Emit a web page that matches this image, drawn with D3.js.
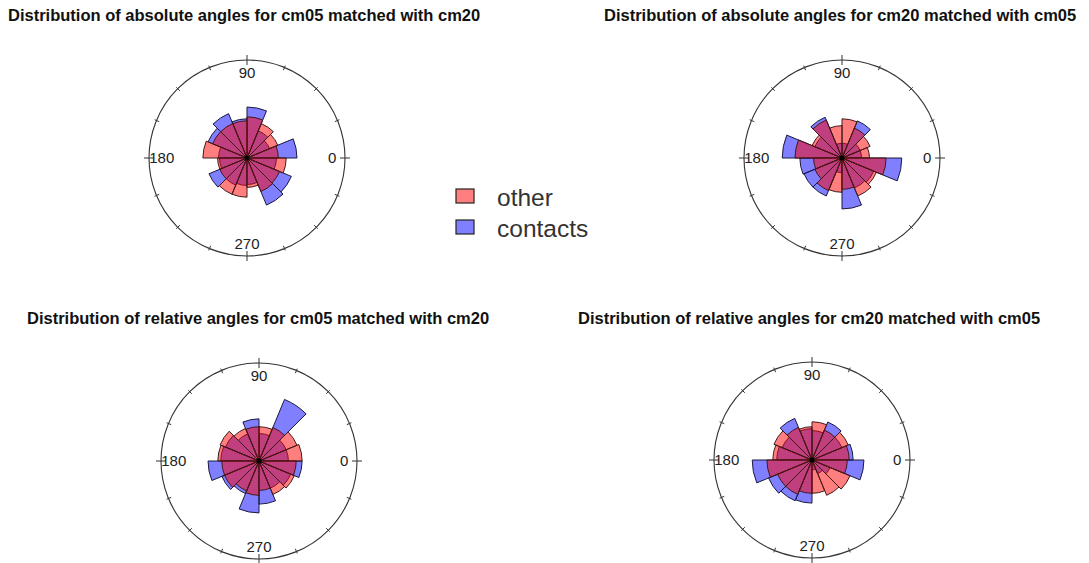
<!DOCTYPE html>
<html>
<head>
<meta charset="utf-8">
<script src="https://cdn.jsdelivr.net/npm/d3@7"></script>
<style>
  body { margin: 0; background: #fff; }
  svg { display: block; }
  .title { font-family: "Liberation Sans", Arial, sans-serif; font-weight: bold; font-size: 16.5px; fill: #111; }
  .axlab { font-family: "Liberation Sans", Arial, sans-serif; font-size: 15px; fill: #222; }
  .leg { font-family: "Liberation Sans", Arial, sans-serif; font-size: 24.5px; fill: #333; }
</style>
</head>
<body>
<svg width="1089" height="563"></svg>
<script>
// 16 bins of 22.5 degrees, counter-clockwise from 0 (east)
const binStarts = d3.range(0, 360, 22.5);
const axisLabels = [0, 90, 180, 270];

const titles = [
  "Distribution of absolute angles for cm05 matched with cm20",
  "Distribution of absolute angles for cm20 matched with cm05",
  "Distribution of relative angles for cm05 matched with cm20",
  "Distribution of relative angles for cm20 matched with cm05"
];

// bar lengths (fraction of the circle radius), one per bin
const absCm05Other    = [0.32, 0.34, 0.38, 0.42, 0.38, 0.38, 0.38, 0.45, 0.30, 0.30, 0.40, 0.40, 0.30, 0.37, 0.36, 0.40];
const absCm05Contacts = [0.51, 0.25, 0.30, 0.52, 0.40, 0.49, 0.43, 0.29, 0.28, 0.42, 0.30, 0.28, 0.27, 0.52, 0.49, 0.30];
const absCm20Other    = [0.28, 0.31, 0.33, 0.40, 0.33, 0.42, 0.33, 0.48, 0.29, 0.30, 0.36, 0.35, 0.32, 0.42, 0.38, 0.45];
const absCm20Contacts = [0.20, 0.20, 0.41, 0.15, 0.15, 0.45, 0.30, 0.61, 0.43, 0.42, 0.42, 0.15, 0.52, 0.33, 0.35, 0.61];
const relCm05Other    = [0.44, 0.42, 0.37, 0.35, 0.35, 0.36, 0.43, 0.42, 0.38, 0.38, 0.33, 0.35, 0.30, 0.37, 0.39, 0.38];
const relCm05Contacts = [0.30, 0.30, 0.68, 0.28, 0.43, 0.30, 0.37, 0.39, 0.52, 0.41, 0.36, 0.53, 0.44, 0.30, 0.35, 0.44];
const relCm20Other    = [0.38, 0.40, 0.33, 0.39, 0.34, 0.36, 0.42, 0.40, 0.46, 0.38, 0.38, 0.34, 0.34, 0.39, 0.42, 0.36];
const relCm20Contacts = [0.42, 0.33, 0.42, 0.30, 0.32, 0.46, 0.33, 0.36, 0.61, 0.48, 0.45, 0.44, 0.10, 0.15, 0.20, 0.53];

const panels = [
  { title: titles[0], other: absCm05Other, contacts: absCm05Contacts, cx: 247, cy: 158, tx: 8,   ty: 21 },
  { title: titles[1], other: absCm20Other, contacts: absCm20Contacts, cx: 842, cy: 158, tx: 604, ty: 21 },
  { title: titles[2], other: relCm05Other, contacts: relCm05Contacts, cx: 259, cy: 461, tx: 27,  ty: 324 },
  { title: titles[3], other: relCm20Other, contacts: relCm20Contacts, cx: 812, cy: 460, tx: 578, ty: 324 }
];

const R = 98;
const binWidth = 22.5;

const svg = d3.select("svg");

// math angle (deg, ccw from east) -> d3 arc angle (rad, cw from north)
const ang = d3.scaleLinear().domain([0, 360]).range([Math.PI / 2, Math.PI / 2 - 2 * Math.PI]);
const rad = d3.scaleLinear().domain([0, 1]).range([0, R]);

const arc = d3.arc()
    .innerRadius(0)
    .outerRadius(d => rad(d.v))
    .startAngle(d => ang(d.a + binWidth))
    .endAngle(d => ang(d.a));

// point on a ray at angle a (deg) and radius r (px)
const px = (a, r) => r * Math.cos(a * Math.PI / 180);
const py = (a, r) => -r * Math.sin(a * Math.PI / 180);

panels.forEach(p => {
  svg.append("text")
      .attr("class", "title")
      .attr("x", p.tx)
      .attr("y", p.ty)
      .text(p.title);

  const g = svg.append("g")
      .attr("transform", "translate(" + p.cx + "," + p.cy + ")");

  // outer circle
  g.append("circle")
      .attr("r", R)
      .attr("fill", "none")
      .attr("stroke", "#333")
      .attr("stroke-width", 1.1);

  // ticks every 22.5 degrees, longer ones at the axis labels
  g.selectAll(".tick")
      .data(binStarts)
    .enter().append("line")
      .attr("x1", d => px(d, R - (d % 90 === 0 ? 5 : 3)))
      .attr("y1", d => py(d, R - (d % 90 === 0 ? 5 : 3)))
      .attr("x2", d => px(d, R + (d % 90 === 0 ? 5 : 2)))
      .attr("y2", d => py(d, R + (d % 90 === 0 ? 5 : 2)))
      .attr("stroke", "#333")
      .attr("stroke-width", 1);

  // axis labels
  g.selectAll(".axlab")
      .data(axisLabels)
    .enter().append("text")
      .attr("class", "axlab")
      .attr("text-anchor", "middle")
      .attr("dy", "0.35em")
      .attr("x", d => px(d, 0.87 * R))
      .attr("y", d => py(d, 0.87 * R))
      .text(d => d);

  // contacts (blue) first, then other (red) on top
  g.selectAll(".contacts")
      .data(binStarts.map((a, i) => ({ a: a, v: p.contacts[i] })))
    .enter().append("path")
      .attr("d", arc)
      .attr("fill", "rgba(0,0,255,0.5)")
      .attr("stroke", "#1a1a40")
      .attr("stroke-width", 1);

  g.selectAll(".other")
      .data(binStarts.map((a, i) => ({ a: a, v: p.other[i] })))
    .enter().append("path")
      .attr("d", arc)
      .attr("fill", "rgba(255,0,0,0.5)")
      .attr("stroke", "#401a1a")
      .attr("stroke-width", 1);

  g.append("circle")
      .attr("r", 2.5)
      .attr("fill", "#000");
});

// legend
const legendItems = ["other", "contacts"];
const legendFill = d3.scaleOrdinal().domain(legendItems).range(["rgba(255,0,0,0.5)", "rgba(0,0,255,0.5)"]);
const leg = svg.append("g").attr("transform", "translate(456,189)");
leg.selectAll("rect")
    .data(legendItems)
  .enter().append("rect")
    .attr("x", 0)
    .attr("y", (d, i) => i * 31)
    .attr("width", 18)
    .attr("height", 14)
    .attr("fill", d => legendFill(d))
    .attr("stroke", "#222")
    .attr("stroke-width", 1.2);
leg.selectAll("text")
    .data(legendItems)
  .enter().append("text")
    .attr("class", "leg")
    .attr("x", 41)
    .attr("y", (d, i) => i * 31 + 8)
    .attr("dy", "0.35em")
    .text(d => d);
</script>
</body>
</html>
